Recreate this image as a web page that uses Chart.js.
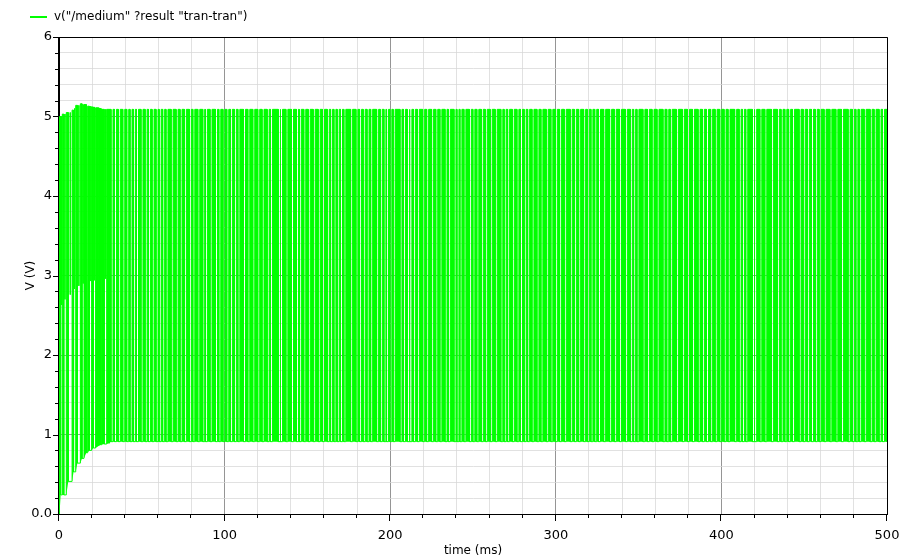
<!DOCTYPE html>
<html>
<head>
<meta charset="utf-8">
<title>v("/medium") transient</title>
<script src="https://cdn.jsdelivr.net/npm/chart.js@4.4.1/dist/chart.umd.min.js"></script>
<style>
  html, body { margin: 0; padding: 0; background: #fff; }
  #wrap { width: 903px; height: 557px; position: relative; }
</style>
</head>
<body>
<div id="wrap"><canvas id="wave"></canvas></div>
<script>
const legendText = 'v("/medium" ?result "tran-tran")';

// charge-up pulses at the start of the run (ms / V)
const startupStart = [0.3, 2.0, 4.4, 7.9, 10.1, 12.9, 15.1, 17.3, 19.7, 22.1, 24.1, 25.7, 28.8];
const startupEnd   = [1.0, 2.9, 5.6, 8.8, 11.1, 13.9, 16.5, 18.3, 20.7, 23.9, 25.1, 27.3, 30.4];
const startupHigh  = [5.00, 5.03, 5.05, 5.08, 5.14, 5.16, 5.15, 5.13, 5.12, 5.11, 5.10, 5.09, 5.09];
const startupLow   = [0.24, 0.24, 0.41, 0.53, 0.64, 0.70, 0.77, 0.80, 0.83, 0.86, 0.87, 0.88, 0.89];

// short drops from the top rail that stop near 3 V
const dipTimes  = [1.6, 3.6, 6.8, 9.4, 12.0, 14.6, 19.2, 21.4, 25.4, 28.2];
const dipTops   = [5.00, 5.03, 5.05, 5.10, 5.14, 5.15, 5.13, 5.12, 5.10, 5.09];
const dipLevels = [2.63, 2.70, 2.76, 2.83, 2.87, 2.90, 2.93, 2.94, 2.95, 2.96];

// steady state rails (V)
const railLow = 0.91;
const railHigh = 5.09;

// quiet stretches (ms) in the steady-state switching
const gapWidth = 1.2;
const gapTimes = [
  31.4, 33.5, 35.8, 38.5, 40.9, 42.9, 44.9, 46.8, 49.5, 52.0, 54.0, 56.2, 58.6, 60.5,
  62.6, 64.6, 67.7, 70.7, 73.1, 75.7, 78.7, 80.8, 83.8, 86.8, 88.4, 91.2, 94.5, 96.5,
  99.0, 101.3, 103.5, 105.9, 108.0, 111.4, 114.0, 117.0, 120.0, 122.6, 125.7, 127.7,
  132.4, 133.8, 137.0, 140.4, 143.4, 145.1, 147.8, 150.5, 153.5, 156.5, 159.1, 162.0,
  164.0, 166.0, 168.0, 170.0, 172.0, 176.1, 179.3, 181.5, 183.7, 186.0, 188.2, 191.8,
  194.0, 196.2, 197.8, 199.8, 201.8, 205.9, 208.0, 210.3, 211.9, 214.0, 216.4, 219.6,
  222.0, 225.0, 227.5, 230.0, 233.1, 235.1, 238.5, 240.3, 242.1, 244.5, 247.8, 249.9,
  252.3, 255.0, 257.4, 260.4, 263.4, 266.8, 268.8, 270.9, 273.7, 276.5, 278.7, 280.9,
  283.0, 285.6, 288.6, 291.0, 294.2, 297.0, 299.7, 302.3, 305.1, 308.7, 311.2, 313.8,
  316.8, 319.0, 321.2, 323.5, 325.8, 328.9, 332.5, 335.3, 338.5, 342.0, 345.0, 347.0,
  349.0, 352.6, 355.3, 358.1, 361.1, 364.7, 367.0, 369.1, 372.8, 376.4, 379.5, 382.5,
  385.9, 388.5, 391.0, 393.5, 396.2, 399.0, 401.6, 404.0, 408.0, 410.7, 412.7, 414.7,
  418.7, 420.1, 423.2, 426.2, 430.2, 433.8, 436.0, 438.3, 440.6, 442.9, 446.9, 449.4,
  451.9, 454.4, 456.7, 459.0, 462.0, 465.5, 469.1, 472.5, 476.5, 479.1, 481.2, 483.2,
  486.2, 489.8, 492.2, 495.2, 497.3
];

const tMax = 500;
const green = '#00ff00';

// build the trace and the floor it gets filled down to
const trace = [{ x: 0, y: 0 }];
const floor = [{ x: 0, y: 0 }];

function addBlock(s, e, lo0, lo1, hi) {
  trace.push({ x: s, y: lo0 }, { x: s, y: hi }, { x: e, y: hi }, { x: e, y: lo1 });
  floor.push({ x: s, y: lo0 }, { x: s, y: lo0 }, { x: e, y: lo1 }, { x: e, y: lo1 });
}

let prevLow = 0;
startupStart.forEach((s, i) => {
  addBlock(s, startupEnd[i], prevLow, startupLow[i], startupHigh[i]);
  prevLow = startupLow[i];
});

let blockStart = startupEnd[startupEnd.length - 1];
gapTimes.forEach(g => {
  addBlock(blockStart, g, prevLow, railLow, railHigh);
  prevLow = railLow;
  blockStart = g + gapWidth;
});
addBlock(blockStart, tMax, railLow, railLow, railHigh);

const dips = [];
dipTimes.forEach((t, i) => {
  dips.push({ x: t, y: dipTops[i] }, { x: t, y: dipLevels[i] }, { x: t, y: null });
});

const isWhole = v => Math.abs(v - Math.round(v)) < 1e-6;

// axis ticks (outside), frame and the legend line
const axisDecor = {
  id: 'axisDecor',
  afterDraw(chart) {
    const { ctx, chartArea: a, scales: { x, y } } = chart;
    ctx.save();
    ctx.strokeStyle = '#000';
    ctx.lineWidth = 1;
    ctx.beginPath();
    ctx.rect(a.left - 0.5, a.top + 0.5, a.right - a.left + 1, a.bottom - a.top);
    x.ticks.forEach(t => {
      const px = Math.round(x.getPixelForValue(t.value)) - 0.5;
      const len = t.value % 100 === 0 ? 7 : 4;
      ctx.moveTo(px, a.bottom);
      ctx.lineTo(px, a.bottom + len);
    });
    y.ticks.forEach(t => {
      const py = Math.round(y.getPixelForValue(t.value)) + 0.5;
      const len = isWhole(t.value) ? 6 : 4;
      ctx.moveTo(a.left, py);
      ctx.lineTo(a.left - len, py);
    });
    ctx.stroke();

    ctx.strokeStyle = green;
    ctx.lineWidth = 2;
    ctx.beginPath();
    ctx.moveTo(30, 17);
    ctx.lineTo(47, 17);
    ctx.stroke();
    ctx.fillStyle = '#000';
    ctx.font = '12px "DejaVu Sans"';
    ctx.textBaseline = 'middle';
    ctx.fillText(legendText, 54, 17);
    ctx.restore();
  }
};

const tickFont = { family: '"DejaVu Sans"', size: 13 };
const majorGrid = '#959595';
const minorGrid = 'rgba(215, 215, 215, 0.75)';

new Chart(document.getElementById('wave'), {
  type: 'line',
  data: {
    datasets: [
      {
        data: floor,
        borderColor: 'transparent',
        borderWidth: 0,
        pointRadius: 0,
        fill: false
      },
      {
        label: legendText,
        data: trace,
        borderColor: green,
        backgroundColor: green,
        borderWidth: 1,
        pointRadius: 0,
        fill: '-1'
      },
      {
        data: dips,
        borderColor: green,
        borderWidth: 1,
        pointRadius: 0,
        fill: false,
        spanGaps: false
      }
    ]
  },
  options: {
    responsive: true,
    maintainAspectRatio: false,
    animation: false,
    events: [],
    layout: { padding: { top: 37, right: 16, left: 0, bottom: 0 } },
    elements: { line: { tension: 0 } },
    plugins: {
      legend: { display: false },
      tooltip: { enabled: false },
      filler: { propagate: false }
    },
    scales: {
      x: {
        type: 'linear',
        z: 1,
        min: 0,
        max: tMax,
        afterFit: s => {
          s.height = 43;
          s.paddingLeft = 0;
          s.paddingRight = 0;
        },
        border: { color: '#000', width: 1 },
        grid: {
          drawTicks: false,
          color: c => (c.tick && c.tick.value % 100 === 0 ? majorGrid : minorGrid)
        },
        ticks: {
          stepSize: 20,
          maxTicksLimit: 100,
          autoSkip: false,
          maxRotation: 0,
          padding: 14,
          color: '#000',
          font: tickFont,
          callback: v => (v % 100 === 0 ? String(v) : '')
        },
        title: {
          display: true,
          text: 'time (ms)',
          color: '#000',
          font: { family: '"DejaVu Sans"', size: 12, lineHeight: 1 },
          padding: { top: 0, bottom: 0 }
        }
      },
      y: {
        z: 1,
        min: 0,
        max: 6,
        afterFit: s => {
          s.width = 59;
          s.paddingTop = 0;
          s.paddingBottom = 0;
        },
        border: { color: '#000', width: 1 },
        grid: {
          drawTicks: false,
          color: c => (c.tick && isWhole(c.tick.value) ? majorGrid : minorGrid)
        },
        ticks: {
          stepSize: 0.2,
          maxTicksLimit: 100,
          autoSkip: false,
          padding: 7,
          color: '#000',
          font: tickFont,
          callback: v => {
            if (!isWhole(v)) return '';
            return Math.round(v) === 0 ? '0.0' : String(Math.round(v));
          }
        },
        title: {
          display: true,
          text: 'V (V)',
          color: '#000',
          font: { family: '"DejaVu Sans"', size: 12 },
          padding: { top: 24, bottom: 0 }
        }
      }
    }
  },
  plugins: [axisDecor]
});
</script>
</body>
</html>
